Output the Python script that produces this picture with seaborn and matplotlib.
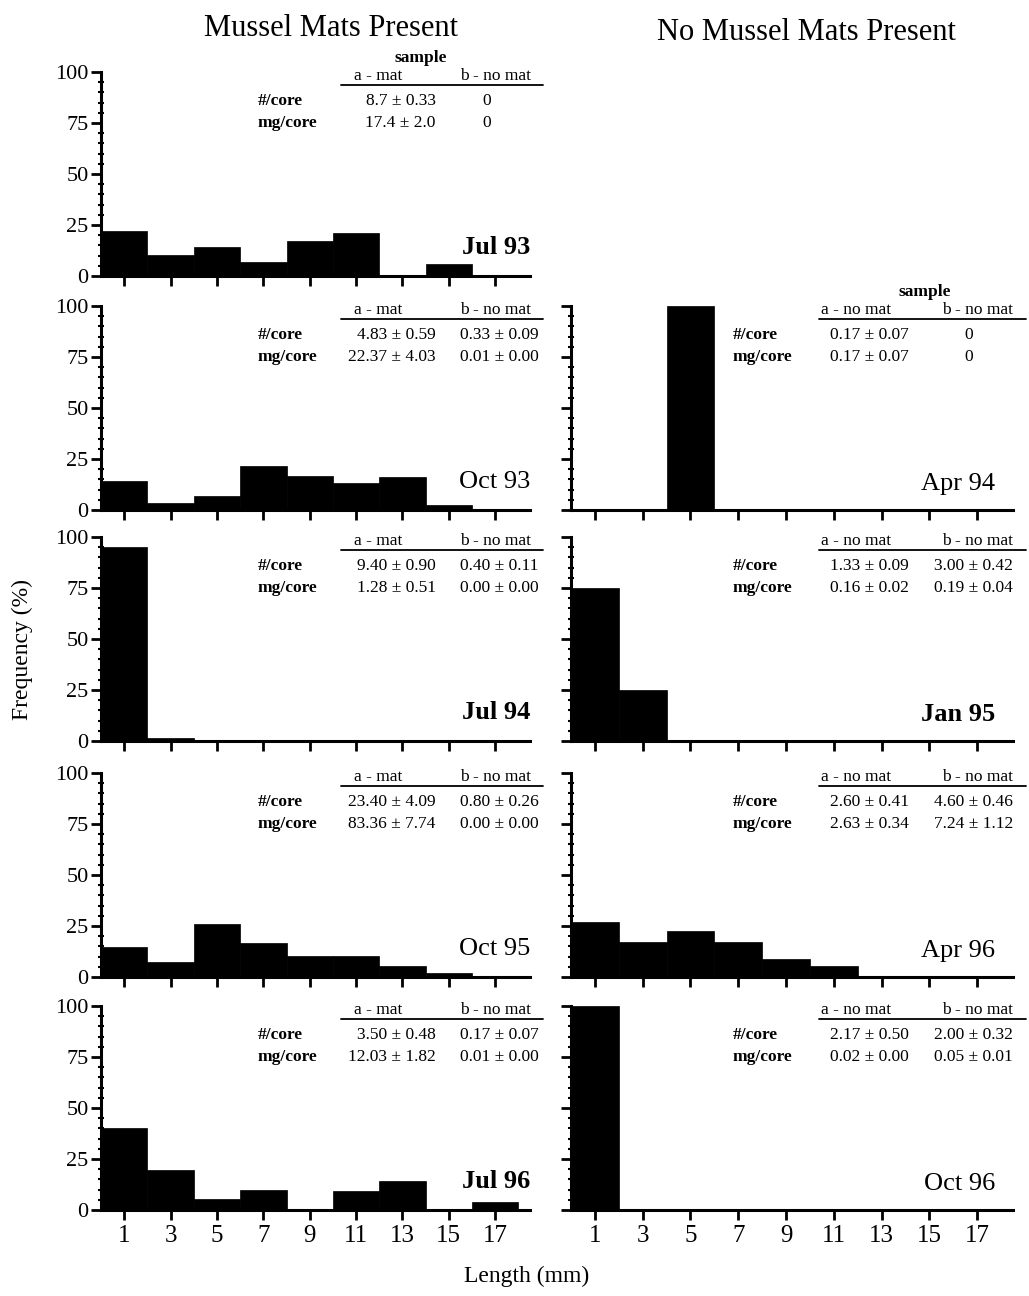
import numpy as np
import pandas as pd
import matplotlib
matplotlib.use("Agg")
import matplotlib.pyplot as plt
from matplotlib.ticker import MultipleLocator
import seaborn as sns

# ---------------- data ----------------
length_centers = [1, 3, 5, 7, 9, 11, 13, 15, 17]
bin_edges = [0, 2, 4, 6, 8, 10, 12, 14, 16, 18]

jul93 = [22, 10.5, 14, 7, 17, 21, 0, 6, 0]
oct93 = [14, 3.2, 6.7, 21.5, 16.7, 13, 16, 2.4, 0]
jul94 = [95, 1.5, 0.3, 0, 0, 0.6, 0.3, 0, 0]
oct95 = [14.7, 7.5, 26, 16.7, 10.5, 10.3, 5.2, 2, 0.5]
jul96 = [40, 19.5, 5.5, 10, 0, 9.5, 14, 0, 4]

apr94 = [0, 0, 100, 0, 0, 0, 0, 0, 0]
jan95 = [75, 25, 0, 0, 0, 0, 0, 0, 0]
apr96 = [27, 17, 22.5, 17, 9, 5.2, 0.5, 0, 0]
oct96 = [100, 0, 0, 0, 0, 0, 0, 0, 0]

left_labels = ["Jul 93", "Oct 93", "Jul 94", "Oct 95", "Jul 96"]
right_labels = [None, "Apr 94", "Jan 95", "Apr 96", "Oct 96"]
bold_labels = ["Jul 93", "Jul 94", "Jan 95", "Jul 96"]

left_tables = [
    ("8.7 ± 0.33", "0", "17.4 ± 2.0", "0"),
    ("4.83 ± 0.59", "0.33 ± 0.09", "22.37 ± 4.03", "0.01 ± 0.00"),
    ("9.40 ± 0.90", "0.40 ± 0.11", "1.28 ± 0.51", "0.00 ± 0.00"),
    ("23.40 ± 4.09", "0.80 ± 0.26", "83.36 ± 7.74", "0.00 ± 0.00"),
    ("3.50 ± 0.48", "0.17 ± 0.07", "12.03 ± 1.82", "0.01 ± 0.00"),
]
right_tables = [
    None,
    ("0.17 ± 0.07", "0", "0.17 ± 0.07", "0"),
    ("1.33 ± 0.09", "3.00 ± 0.42", "0.16 ± 0.02", "0.19 ± 0.04"),
    ("2.60 ± 0.41", "4.60 ± 0.46", "2.63 ± 0.34", "7.24 ± 1.12"),
    ("2.17 ± 0.50", "2.00 ± 0.32", "0.02 ± 0.00", "0.05 ± 0.01"),
]

left_data = [jul93, oct93, jul94, oct95, jul96]
right_data = [None, apr94, jan95, apr96, oct96]

# ---------------- style ----------------
sns.set_theme(style="ticks")
plt.rcParams["font.family"] = ["Liberation Serif", "DejaVu Serif"]
plt.rcParams["text.color"] = "black"
plt.rcParams["axes.labelcolor"] = "black"
plt.rcParams["xtick.color"] = "black"
plt.rcParams["ytick.color"] = "black"

W, H = 1029, 1296
fig = plt.figure(figsize=(W / 100, H / 100), dpi=100)

row_bottom_px = [276, 510, 741, 977, 1210]
ax_h_px = 204
left_x0, left_w = 101, 429
right_x0, right_w = 571, 442


def make_axes(x0, w, yb):
    return fig.add_axes([x0 / W, 1 - yb / H, w / W, ax_h_px / H])


def style_axes(ax, show_xlabels, show_ylabels):
    ax.set_xlim(0, 18.5)
    ax.set_ylim(0, 100)
    sns.despine(ax=ax)
    for s in ("left", "bottom"):
        ax.spines[s].set_linewidth(2.2)
        ax.spines[s].set_color("black")
    ax.set_xticks(length_centers)
    ax.set_yticks([0, 25, 50, 75, 100])
    ax.yaxis.set_minor_locator(MultipleLocator(5))
    ax.tick_params(axis="both", which="major", direction="out", length=7,
                   width=2, color="black", labelcolor="black")
    ax.tick_params(axis="y", which="minor", direction="inout", length=4,
                   width=1.5, color="black")
    ax.tick_params(axis="x", labelsize=18, pad=4)
    ax.tick_params(axis="y", labelsize=16, pad=2)
    if not show_xlabels:
        ax.set_xticklabels([])
    if not show_ylabels:
        ax.set_yticklabels([])
    ax.set_xlabel("")
    ax.set_ylabel("")
    ax.grid(False)


def draw_hist(ax, values):
    df = pd.DataFrame({"length": length_centers, "freq": values})
    sns.histplot(data=df, x="length", weights="freq", bins=bin_edges, ax=ax,
                 color="black", alpha=1, edgecolor="black", linewidth=0.5)


def draw_table(ax, vals, headers, col1_r, col2_r, sample_x=None):
    fs = 12.5
    line_y = 0.935
    ax.plot([0.56, 1.03], [line_y, line_y], transform=ax.transAxes,
            color="black", lw=1.3, clip_on=False)
    ax.text(0.645, line_y + 0.005, headers[0], transform=ax.transAxes,
            ha="center", va="bottom", fontsize=fs)
    ax.text(0.92, line_y + 0.005, headers[1], transform=ax.transAxes,
            ha="center", va="bottom", fontsize=fs)
    if sample_x is not None:
        ax.text(sample_x, line_y + 0.095, "sample", transform=ax.transAxes,
                ha="center", va="bottom", fontsize=fs, fontweight="bold")
    ax.text(0.365, 0.86, "#/core", transform=ax.transAxes, ha="left",
            va="center", fontsize=fs, fontweight="bold")
    ax.text(0.365, 0.75, "mg/core", transform=ax.transAxes, ha="left",
            va="center", fontsize=fs, fontweight="bold")
    for v, x, y in [(vals[0], col1_r, 0.86), (vals[1], col2_r, 0.86),
                    (vals[2], col1_r, 0.75), (vals[3], col2_r, 0.75)]:
        if v == "0":
            ax.text(0.9, y, v, transform=ax.transAxes, ha="center",
                    va="center", fontsize=fs)
        else:
            ax.text(x, y, v, transform=ax.transAxes, ha="right",
                    va="center", fontsize=fs)


def panel_label(ax, x, y, label):
    ax.text(x, y, label, transform=ax.transAxes, ha="right", va="baseline",
            fontsize=19,
            fontweight="bold" if label in bold_labels else "normal")


for r in range(5):
    yb = row_bottom_px[r]
    # left column
    axl = make_axes(left_x0, left_w, yb)
    draw_hist(axl, left_data[r])
    style_axes(axl, show_xlabels=(r == 4), show_ylabels=True)
    panel_label(axl, 1.0, 0.11, left_labels[r])
    draw_table(axl, left_tables[r], ("a - mat", "b - no mat"), 0.78, 1.02,
               sample_x=(0.745 if r == 0 else None))
    # right column
    if right_data[r] is not None:
        axr = make_axes(right_x0, right_w, yb)
        draw_hist(axr, right_data[r])
        style_axes(axr, show_xlabels=(r == 4), show_ylabels=False)
        panel_label(axr, 0.96, 0.10, right_labels[r])
        draw_table(axr, right_tables[r], ("a - no mat", "b - no mat"),
                   0.765, 1.0, sample_x=(0.80 if r == 1 else None))

fig.text(331 / W, 1 - 28 / H, "Mussel Mats Present", ha="center",
         va="center", fontsize=22)
fig.text(806 / W, 1 - 33 / H, "No Mussel Mats Present", ha="center",
         va="center", fontsize=22)
fig.text(22 / W, 1 - 650 / H, "Frequency (%)", ha="center", va="center",
         rotation=90, fontsize=17)
fig.text(527 / W, 1 - 1276 / H, "Length (mm)", ha="center", va="center",
         fontsize=17)

fig.savefig("out.png", dpi=100, facecolor="white")
